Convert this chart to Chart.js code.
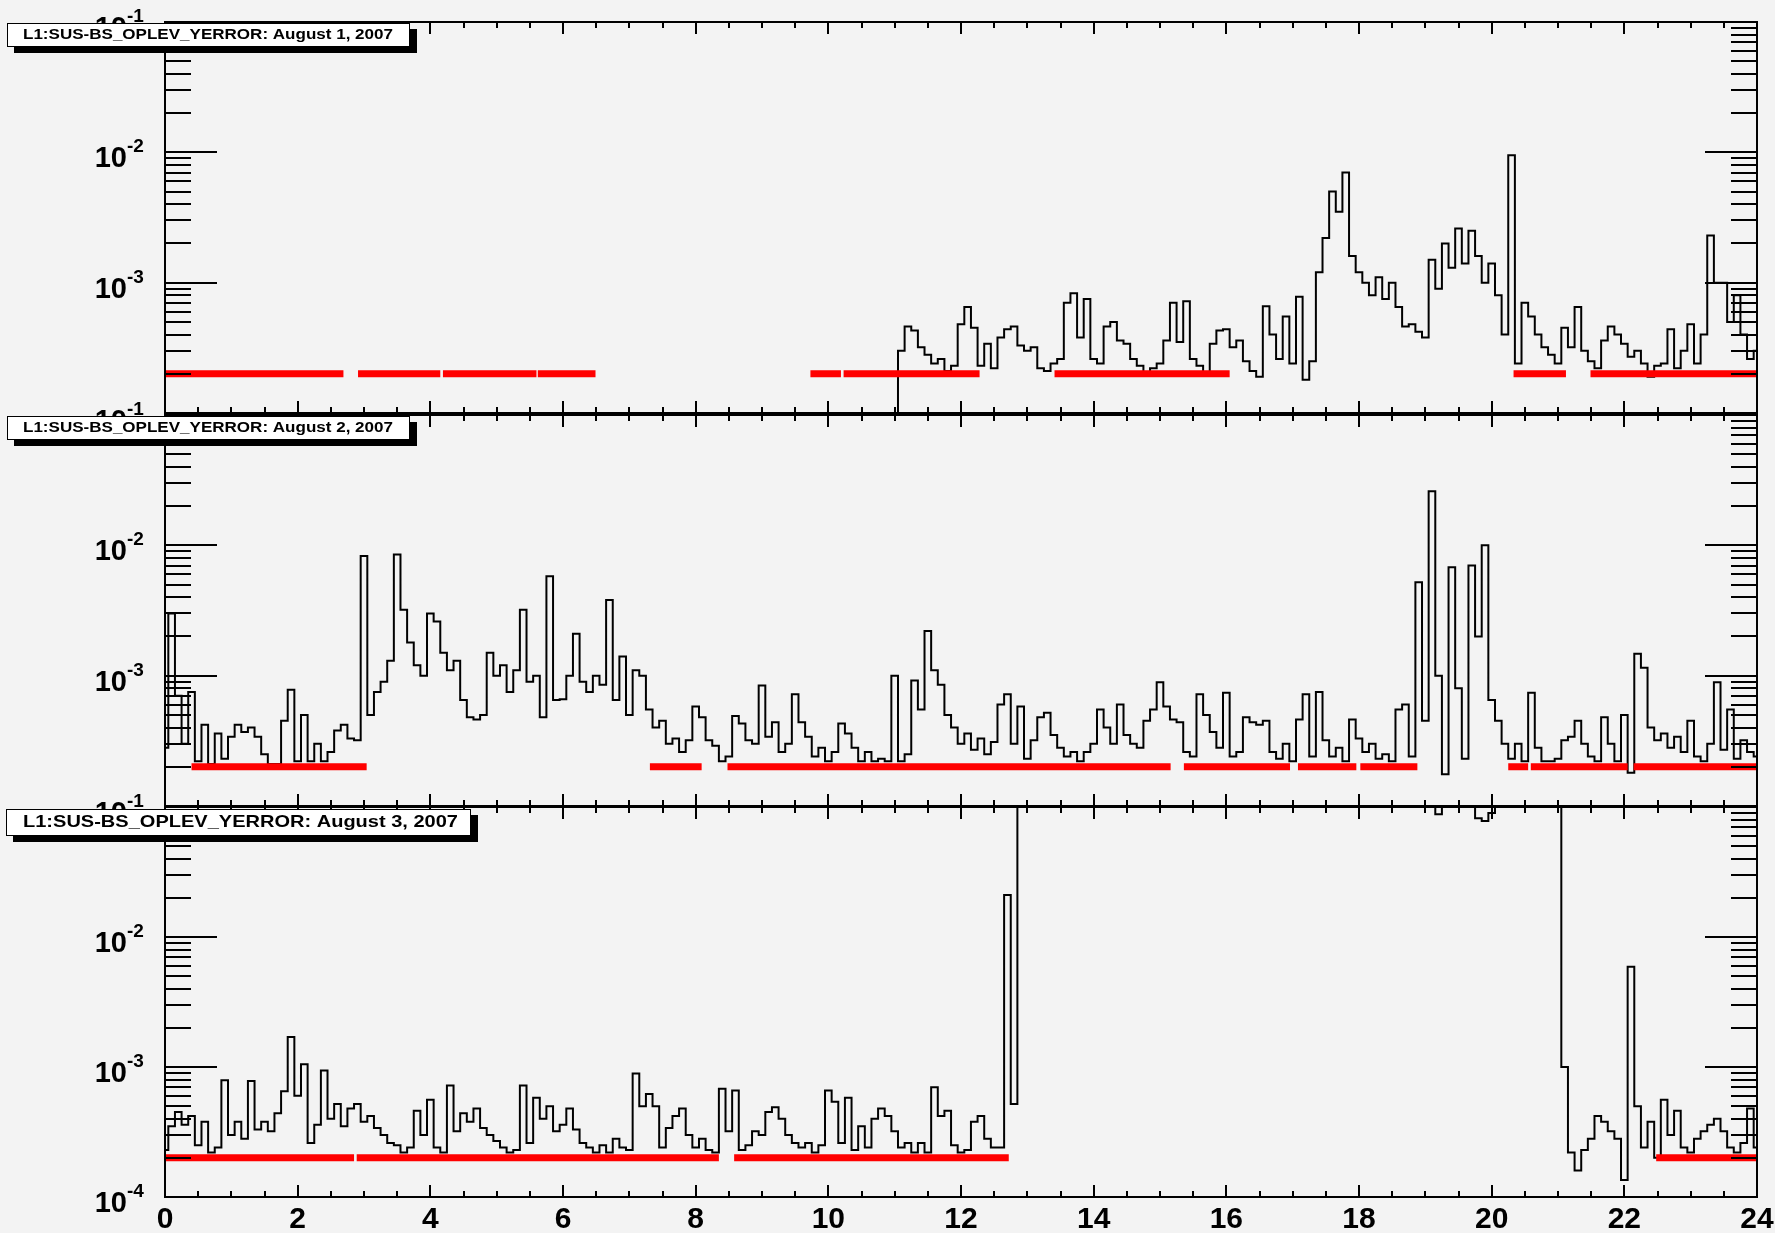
<!DOCTYPE html>
<html>
<head>
<meta charset="utf-8">
<title>L1:SUS-BS_OPLEV_YERROR</title>
<script src="https://cdn.jsdelivr.net/npm/chart.js@4.4.0/dist/chart.umd.min.js"></script>
<style>
  html, body { margin: 0; padding: 0; background: #f3f3f3; overflow: hidden; }
  body { width: 1775px; height: 1233px; position: relative; }
  canvas { position: absolute; left: 0; }
</style>
</head>
<body>
<canvas id="pad1" width="1775" height="420" style="top:0px"></canvas>
<canvas id="pad2" width="1775" height="420" style="top:400px"></canvas>
<canvas id="pad3" width="1775" height="443" style="top:790px"></canvas>
<script>
// Axis ticks / labels
const xMajor = [0, 2, 4, 6, 8, 10, 12, 14, 16, 18, 20, 22, 24];
const xTickLabels = ['0', '2', '4', '6', '8', '10', '12', '14', '16', '18', '20', '22', '24'];
const yDecades = [1e-4, 1e-3, 1e-2, 1e-1];

// Samples every 0.1 h. Values above 1e-1 / below 1e-4 are off scale.
const HOUR_STEP = 0.1;
const SCI_LEVEL = 2e-4;   // where the science-mode segments are drawn

// August 1 — data starts at 11:00
const day1Start = 11.0;
const day1 = [
  5e-5, 3.0e-4, 4.6e-4, 4.3e-4, 3.2e-4, 2.8e-4, 2.4e-4, 2.6e-4, 2.1e-4, 2.3e-4,
  4.8e-4, 6.5e-4, 4.5e-4, 2.3e-4, 3.4e-4, 2.2e-4, 3.8e-4, 4.4e-4, 4.6e-4, 3.3e-4,
  3.0e-4, 3.2e-4, 2.2e-4, 2.1e-4, 2.4e-4, 2.6e-4, 7.0e-4, 8.3e-4, 3.8e-4, 7.5e-4,
  2.6e-4, 2.4e-4, 4.6e-4, 5.0e-4, 3.6e-4, 3.4e-4, 2.6e-4, 2.3e-4, 2.0e-4, 2.2e-4,
  2.4e-4, 3.6e-4, 7.0e-4, 3.5e-4, 7.2e-4, 2.6e-4, 2.3e-4, 2.0e-4, 3.4e-4, 4.3e-4,
  4.4e-4, 3.2e-4, 3.6e-4, 2.5e-4, 2.1e-4, 1.9e-4, 6.6e-4, 4.0e-4, 2.6e-4, 5.5e-4,
  2.4e-4, 7.8e-4, 1.8e-4, 2.5e-4, 1.2e-3, 2.2e-3, 5.0e-3, 3.5e-3, 7.0e-3, 1.6e-3,
  1.2e-3, 1.0e-3, 8.0e-4, 1.1e-3, 7.5e-4, 1.0e-3, 6.5e-4, 4.6e-4, 4.8e-4, 4.2e-4,
  3.8e-4, 1.5e-3, 9.0e-4, 2.0e-3, 1.3e-3, 2.6e-3, 1.4e-3, 2.5e-3, 1.6e-3, 1.0e-3,
  1.4e-3, 8.0e-4, 4.0e-4, 9.5e-3, 2.4e-4, 7.0e-4, 5.5e-4, 4.0e-4, 3.2e-4, 2.8e-4,
  2.4e-4, 4.5e-4, 3.2e-4, 6.5e-4, 3.0e-4, 2.5e-4, 2.2e-4, 3.6e-4, 4.6e-4, 4.0e-4,
  3.4e-4, 2.7e-4, 3.0e-4, 2.4e-4, 1.9e-4, 2.3e-4, 2.4e-4, 4.4e-4, 2.2e-4, 3.0e-4,
  4.8e-4, 2.4e-4, 4.0e-4, 2.3e-3, 1.0e-3, 1.0e-3, 5.0e-4, 8.0e-4, 4.0e-4, 2.6e-4,
  3.0e-4
];
const sci1 = [[0.01, 2.69], [2.91, 4.15], [4.19, 5.60], [5.62, 6.49], [9.73, 10.19],
  [10.23, 12.28], [13.41, 16.05], [20.33, 21.12], [21.49, 24.0]];

// August 2
const day2Start = 0.0;
const day2 = [
  2.8e-4, 3.0e-3, 7.0e-4, 3.0e-4, 7.5e-4, 2.2e-4, 4.2e-4, 2.1e-4, 3.6e-4, 2.3e-4,
  3.4e-4, 4.2e-4, 3.7e-4, 4.0e-4, 3.4e-4, 2.5e-4, 2.1e-4, 2.1e-4, 4.5e-4, 7.8e-4,
  2.2e-4, 5.0e-4, 2.2e-4, 3.0e-4, 2.2e-4, 2.6e-4, 3.8e-4, 4.2e-4, 3.3e-4, 3.2e-4,
  8.3e-3, 5.0e-4, 7.5e-4, 9.0e-4, 1.3e-3, 8.5e-3, 3.2e-3, 1.8e-3, 1.2e-3, 1.0e-3,
  3.0e-3, 2.6e-3, 1.5e-3, 1.1e-3, 1.3e-3, 6.5e-4, 4.8e-4, 4.6e-4, 5.0e-4, 1.5e-3,
  1.0e-3, 1.2e-3, 7.5e-4, 1.1e-3, 3.2e-3, 9.0e-4, 1.0e-3, 4.8e-4, 5.8e-3, 6.5e-4,
  6.6e-4, 1.0e-3, 2.1e-3, 9.0e-4, 7.5e-4, 1.0e-3, 8.5e-4, 3.8e-3, 6.5e-4, 1.4e-3,
  5.0e-4, 1.1e-3, 1.0e-3, 5.5e-4, 4.0e-4, 4.5e-4, 3.0e-4, 3.3e-4, 2.6e-4, 3.2e-4,
  5.8e-4, 4.8e-4, 3.2e-4, 2.9e-4, 2.2e-4, 2.4e-4, 4.9e-4, 4.3e-4, 3.2e-4, 3.0e-4,
  8.4e-4, 3.4e-4, 4.4e-4, 2.6e-4, 3.0e-4, 7.2e-4, 4.4e-4, 3.4e-4, 2.4e-4, 2.8e-4,
  2.2e-4, 2.6e-4, 4.3e-4, 3.6e-4, 2.8e-4, 2.2e-4, 2.6e-4, 2.2e-4, 2.3e-4, 2.2e-4,
  1.0e-3, 2.2e-4, 2.5e-4, 9.2e-4, 5.5e-4, 2.2e-3, 1.1e-3, 8.5e-4, 5.0e-4, 4.0e-4,
  3.0e-4, 3.6e-4, 2.7e-4, 3.3e-4, 2.5e-4, 3.1e-4, 6.0e-4, 7.2e-4, 3.0e-4, 5.8e-4,
  2.3e-4, 3.2e-4, 4.8e-4, 5.2e-4, 3.5e-4, 2.8e-4, 2.4e-4, 2.6e-4, 2.2e-4, 2.6e-4,
  3.0e-4, 5.5e-4, 4.0e-4, 3.0e-4, 6.0e-4, 3.5e-4, 3.0e-4, 2.8e-4, 4.5e-4, 5.5e-4,
  8.9e-4, 5.8e-4, 4.6e-4, 4.4e-4, 2.6e-4, 2.4e-4, 7.2e-4, 5.0e-4, 3.7e-4, 2.8e-4,
  7.4e-4, 2.4e-4, 2.6e-4, 4.8e-4, 4.4e-4, 4.2e-4, 4.5e-4, 2.6e-4, 2.3e-4, 3.0e-4,
  2.2e-4, 4.6e-4, 7.2e-4, 2.4e-4, 7.5e-4, 3.2e-4, 2.4e-4, 2.8e-4, 2.2e-4, 4.6e-4,
  3.3e-4, 2.6e-4, 3.0e-4, 2.3e-4, 2.5e-4, 2.2e-4, 5.5e-4, 6.0e-4, 2.4e-4, 5.2e-3,
  4.5e-4, 2.6e-2, 1.0e-3, 1.75e-4, 6.8e-3, 8.0e-4, 2.3e-4, 7.0e-3, 2.0e-3, 1.0e-2,
  6.5e-4, 4.5e-4, 3.0e-4, 2.3e-4, 3.0e-4, 2.2e-4, 7.4e-4, 2.8e-4, 2.2e-4, 2.2e-4,
  2.3e-4, 3.2e-4, 3.4e-4, 4.5e-4, 3.0e-4, 2.4e-4, 2.2e-4, 4.8e-4, 3.0e-4, 2.2e-4,
  5.0e-4, 1.8e-4, 1.47e-3, 1.15e-3, 4.0e-4, 3.2e-4, 3.6e-4, 2.8e-4, 3.4e-4, 2.6e-4,
  4.5e-4, 2.4e-4, 2.2e-4, 3.0e-4, 8.9e-4, 2.7e-4, 5.5e-4, 2.3e-4, 3.2e-4, 2.6e-4,
  2.4e-4
];
const sci2 = [[0.40, 3.04], [7.31, 8.09], [8.48, 15.16], [15.36, 16.96], [17.08, 17.96],
  [18.02, 18.88], [20.25, 20.55], [20.59, 22.05], [22.14, 24.0]];

// August 3
const day3Start = 0.0;
const day3 = [
  2.3e-4, 3.5e-4, 4.5e-4, 3.6e-4, 4.2e-4, 2.5e-4, 3.8e-4, 2.2e-4, 2.4e-4, 7.9e-4,
  3.0e-4, 3.8e-4, 2.8e-4, 7.8e-4, 3.3e-4, 3.8e-4, 3.2e-4, 4.4e-4, 6.5e-4, 1.7e-3,
  6.0e-4, 1.05e-3, 2.6e-4, 3.6e-4, 9.4e-4, 4.0e-4, 5.2e-4, 3.5e-4, 4.8e-4, 5.2e-4,
  3.8e-4, 4.2e-4, 3.4e-4, 3.0e-4, 2.6e-4, 2.5e-4, 2.2e-4, 2.4e-4, 4.6e-4, 3.0e-4,
  5.6e-4, 2.4e-4, 2.2e-4, 7.2e-4, 3.2e-4, 4.4e-4, 3.8e-4, 4.8e-4, 3.4e-4, 3.0e-4,
  2.7e-4, 2.4e-4, 2.2e-4, 2.3e-4, 7.2e-4, 2.6e-4, 5.8e-4, 4.0e-4, 5.0e-4, 3.2e-4,
  3.6e-4, 4.8e-4, 3.3e-4, 2.6e-4, 2.4e-4, 2.2e-4, 2.5e-4, 2.2e-4, 2.8e-4, 2.4e-4,
  2.3e-4, 8.9e-4, 5.0e-4, 6.2e-4, 5.0e-4, 2.4e-4, 3.4e-4, 4.2e-4, 4.8e-4, 3.0e-4,
  2.4e-4, 2.8e-4, 2.3e-4, 2.2e-4, 6.8e-4, 3.2e-4, 6.6e-4, 2.3e-4, 2.5e-4, 3.2e-4,
  3.0e-4, 4.5e-4, 4.9e-4, 4.0e-4, 3.0e-4, 2.6e-4, 2.4e-4, 2.6e-4, 2.2e-4, 2.5e-4,
  6.6e-4, 5.4e-4, 2.6e-4, 5.8e-4, 2.3e-4, 3.5e-4, 2.4e-4, 4.0e-4, 4.8e-4, 4.2e-4,
  3.2e-4, 2.4e-4, 2.6e-4, 2.2e-4, 2.6e-4, 2.2e-4, 7.0e-4, 4.2e-4, 4.6e-4, 2.5e-4,
  2.2e-4, 2.3e-4, 3.8e-4, 4.2e-4, 2.8e-4, 2.4e-4, 2.4e-4, 2.1e-2, 5.2e-4, 0.3,
  0.3, 0.3, 0.3, 0.3, 0.3, 0.3, 0.3, 0.3, 0.3, 0.3,
  0.3, 0.3, 0.3, 0.3, 0.3, 0.3, 0.3, 0.3, 0.3, 0.3,
  0.3, 0.3, 0.3, 0.3, 0.3, 0.3, 0.3, 0.3, 0.3, 0.3,
  0.3, 0.3, 0.3, 0.3, 0.3, 0.3, 0.3, 0.3, 0.3, 0.3,
  0.3, 0.3, 0.3, 0.3, 0.3, 0.3, 0.3, 0.3, 0.3, 0.3,
  0.3, 0.3, 0.3, 0.3, 0.3, 0.3, 0.3, 0.3, 0.3, 0.3,
  0.3, 0.3, 0.088, 0.12, 0.3, 0.3, 0.3, 0.3, 0.082, 0.078,
  0.09, 0.3, 0.3, 0.3, 0.3, 0.3, 0.3, 0.3, 0.3, 0.3,
  0.3, 1.0e-3, 2.2e-4, 1.6e-4, 2.3e-4, 2.8e-4, 4.2e-4, 3.8e-4, 3.2e-4, 2.8e-4,
  1.35e-4, 5.9e-3, 5.0e-4, 2.4e-4, 3.8e-4, 2.0e-4, 5.6e-4, 3.0e-4, 4.6e-4, 2.4e-4,
  2.2e-4, 2.8e-4, 3.2e-4, 3.6e-4, 4.0e-4, 3.2e-4, 2.4e-4, 2.2e-4, 2.6e-4, 4.8e-4,
  2.4e-4
];
const sci3 = [[0.0, 2.85], [2.89, 8.35], [8.58, 12.72], [22.48, 24.0]];

const titles = [
  'L1:SUS-BS_OPLEV_YERROR: August 1, 2007',
  'L1:SUS-BS_OPLEV_YERROR: August 2, 2007',
  'L1:SUS-BS_OPLEV_YERROR: August 3, 2007',
];

const FONT = '"Liberation Sans", Arial, Helvetica, sans-serif';

function toPoints(values, start) {
  return values.map((v, i) => ({ x: +(start + i * HOUR_STEP).toFixed(2), y: v }));
}

function segPoints(segs) {
  const pts = [];
  segs.forEach(([a, b]) => {
    pts.push({ x: a, y: SCI_LEVEL }, { x: b, y: SCI_LEVEL }, { x: b, y: null });
  });
  return pts;
}

// ROOT-like frame: inward ticks on all four sides, 10^n labels, boxed title with shadow
const rootPad = {
  id: 'rootPad',
  afterDraw(chart, args, o) {
    const { ctx, chartArea: a } = chart;
    const xs = chart.scales.x, ys = chart.scales.y;
    ctx.save();
    ctx.strokeStyle = '#000';
    ctx.lineWidth = 2;
    ctx.beginPath();
    for (let i = 0; i < xMajor.length; i++) {
      const v = xMajor[i];
      const px = Math.round(xs.getPixelForValue(v));
      ctx.moveTo(px, a.bottom); ctx.lineTo(px, a.bottom - 12);
      ctx.moveTo(px, a.top); ctx.lineTo(px, a.top + 12);
      if (i < xMajor.length - 1) {
        const sub = (xMajor[i + 1] - v) / 4;
        for (let k = 1; k < 4; k++) {
          const mx = Math.round(xs.getPixelForValue(v + k * sub));
          ctx.moveTo(mx, a.bottom); ctx.lineTo(mx, a.bottom - 6);
          ctx.moveTo(mx, a.top); ctx.lineTo(mx, a.top + 6);
        }
      }
    }
    for (const d of yDecades) {
      for (let m = 1; m <= 9; m++) {
        const v = d * m;
        if (v > ys.max * 1.0001) break;
        const py = Math.round(ys.getPixelForValue(v));
        const len = m === 1 ? 52 : 26;
        ctx.moveTo(a.left, py); ctx.lineTo(a.left + len, py);
        ctx.moveTo(a.right, py); ctx.lineTo(a.right - len, py);
      }
    }
    ctx.stroke();
    ctx.strokeRect(a.left, a.top, a.right - a.left, a.bottom - a.top);

    // y labels
    ctx.fillStyle = '#000';
    ctx.textBaseline = 'alphabetic';
    for (const d of o.yLabels) {
      const py = ys.getPixelForValue(d);
      const exp = String(Math.round(Math.log10(d)));
      ctx.font = `bold 29px ${FONT}`;
      ctx.textAlign = 'right';
      ctx.fillText('10', a.left - 38, py + 15);
      ctx.font = `bold 19px ${FONT}`;
      ctx.textAlign = 'left';
      ctx.fillText(exp, a.left - 38, py);
    }

    // x labels (bottom pad only)
    if (o.xLabels) {
      ctx.font = `bold 30px ${FONT}`;
      ctx.textAlign = 'center';
      xMajor.forEach((v, i) => {
        ctx.fillText(xTickLabels[i], xs.getPixelForValue(v), a.bottom + 31);
      });
    }

    // title box
    const t = o.title;
    const y0 = a.top + t.dy;
    ctx.fillStyle = '#000';
    ctx.fillRect(t.x0 + 7, y0 + 6, t.x1 - t.x0, t.h);
    ctx.fillStyle = '#ffffff';
    ctx.fillRect(t.x0, y0, t.x1 - t.x0, t.h);
    ctx.lineWidth = 1;
    ctx.strokeStyle = '#000';
    ctx.strokeRect(t.x0 + 0.5, y0 + 0.5, t.x1 - t.x0 - 1, t.h - 1);
    ctx.fillStyle = '#000';
    ctx.font = `bold ${t.size}px ${FONT}`;
    ctx.textAlign = 'left';
    const w = ctx.measureText(t.text).width;
    ctx.translate(t.tx, y0 + t.base);
    ctx.scale(t.width / w, 1);
    ctx.fillText(t.text, 0, 0);
    ctx.restore();
  }
};

function makePad(id, values, start, segs, padding, pad) {
  return new Chart(document.getElementById(id), {
    type: 'line',
    data: {
      datasets: [
        { data: segPoints(segs), borderColor: '#ff0000', borderWidth: 7, borderCapStyle: 'butt',
          pointRadius: 0, spanGaps: false, order: 0, clip: 0 },
        { data: toPoints(values, start), borderColor: '#000000', borderWidth: 2,
          pointRadius: 0, stepped: 'middle', order: 1, clip: 0 },
      ],
    },
    options: {
      responsive: false,
      animation: false,
      devicePixelRatio: 1,
      events: [],
      layout: { padding },
      plugins: { legend: { display: false }, tooltip: { enabled: false }, rootPad: pad },
      scales: {
        x: { type: 'linear', min: 0, max: 24, display: false },
        y: { type: 'logarithmic', min: 1e-4, max: 1e-1, display: false },
      },
    },
    plugins: [rootPad],
  });
}

makePad('pad1', day1, day1Start, sci1, { left: 165, right: 18, top: 22, bottom: 7 }, {
  yLabels: [1e-3, 1e-2, 1e-1], xLabels: false,
  title: { text: titles[0], x0: 7, x1: 410, dy: 1, h: 24, size: 15, tx: 23, base: 16, width: 370 },
});
makePad('pad2', day2, day2Start, sci2, { left: 165, right: 18, top: 15, bottom: 14 }, {
  yLabels: [1e-3, 1e-2, 1e-1], xLabels: false,
  title: { text: titles[1], x0: 7, x1: 410, dy: 1, h: 24, size: 15, tx: 23, base: 16, width: 370 },
});
makePad('pad3', day3, day3Start, sci3, { left: 165, right: 18, top: 17, bottom: 36 }, {
  yLabels: [1e-4, 1e-3, 1e-2, 1e-1], xLabels: true,
  title: { text: titles[2], x0: 6, x1: 471, dy: 2, h: 27, size: 16.5, tx: 23, base: 18, width: 435 },
});
</script>
</body>
</html>
